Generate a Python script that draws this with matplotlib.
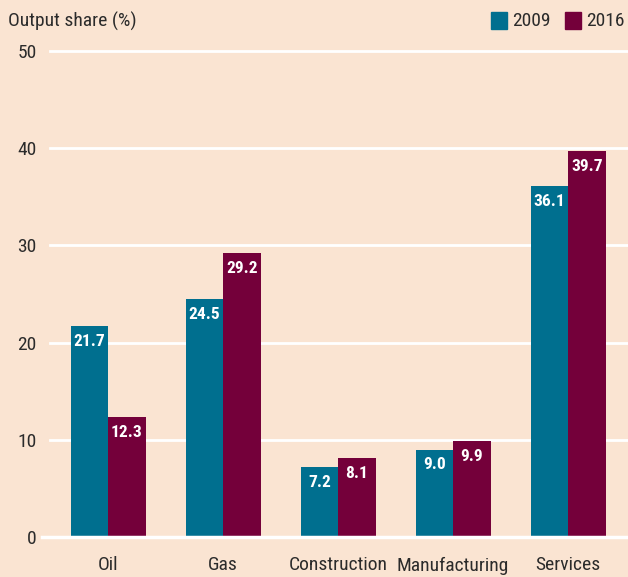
import numpy as np
import matplotlib.pyplot as plt
from matplotlib.patches import Rectangle

# data
categories = ["Oil", "Gas", "Construction", "Manufacturing", "Services"]
share_2009 = [21.7, 24.5, 7.2, 9.0, 36.1]
share_2016 = [12.3, 29.2, 8.1, 9.9, 39.7]
series_names = ["2009", "2016"]
yticks = [0, 10, 20, 30, 40, 50]

bg = "#fae4d2"
teal = "#006f8f"
maroon = "#74003a"
txt = "#2b2b2b"
fam = ["Roboto Condensed", "Archivo Narrow", "Barlow Semi Condensed", "DejaVu Sans"]

plt.rcParams['font.family'] = fam

fig = plt.figure(figsize=(6.28, 5.77), dpi=100)
fig.patch.set_facecolor(bg)
ax = fig.add_axes([42/628, 40/577, 586/628, 486/577])
ax.set_facecolor(bg)

x = np.arange(len(categories))
w = 0.326
ax.set_xlim(-0.574, 4.52)
ax.set_ylim(0, 50)

# gridlines (white, behind bars)
for t in yticks:
    if t == 0:
        ax.axhline(t, xmin=0, xmax=1, color="white", lw=2.5, zorder=3, clip_on=False)
    else:
        ax.axhline(t, xmin=8/586, xmax=1, color="white", lw=2, zorder=0, clip_on=False)

b1 = ax.bar(x - w/2, share_2009, width=w, color=teal, zorder=2)
b2 = ax.bar(x + w/2, share_2016, width=w, color=maroon, zorder=2)

# value labels inside top of bars
for bars, vals in ((b1, share_2009), (b2, share_2016)):
    for r, v in zip(bars, vals):
        ax.annotate("%.1f" % v, (r.get_x() + r.get_width()/2, v),
                    xytext=(0, -11), textcoords="offset points",
                    ha="center", va="center", color="white",
                    fontsize=12.5, fontweight="bold", zorder=4)

for s in ax.spines.values():
    s.set_visible(False)
ax.set_yticks(yticks)
ax.set_yticklabels([str(t) for t in yticks], fontsize=14, color=txt)
ax.tick_params(axis="y", length=0, pad=4)
ax.set_xticks(x)
ax.set_xticklabels(categories, fontsize=14, color=txt)
ax.tick_params(axis="x", length=0, pad=14)

fig.text(8/628, 1 - 21/577, "Output share (%)", fontsize=14, color=txt,
         ha="left", va="center")

# legend
for xs, col, name in ((491, teal, series_names[0]), (565, maroon, series_names[1])):
    fig.patches.append(Rectangle((xs/628, 1 - 29/577), 16/628, 17/577,
                                 transform=fig.transFigure, color=col))
    fig.text((xs + 21)/628, 1 - 21/577, name, fontsize=14, color=txt,
             ha="left", va="center")

fig.savefig("out.png", dpi=100, facecolor=bg)
